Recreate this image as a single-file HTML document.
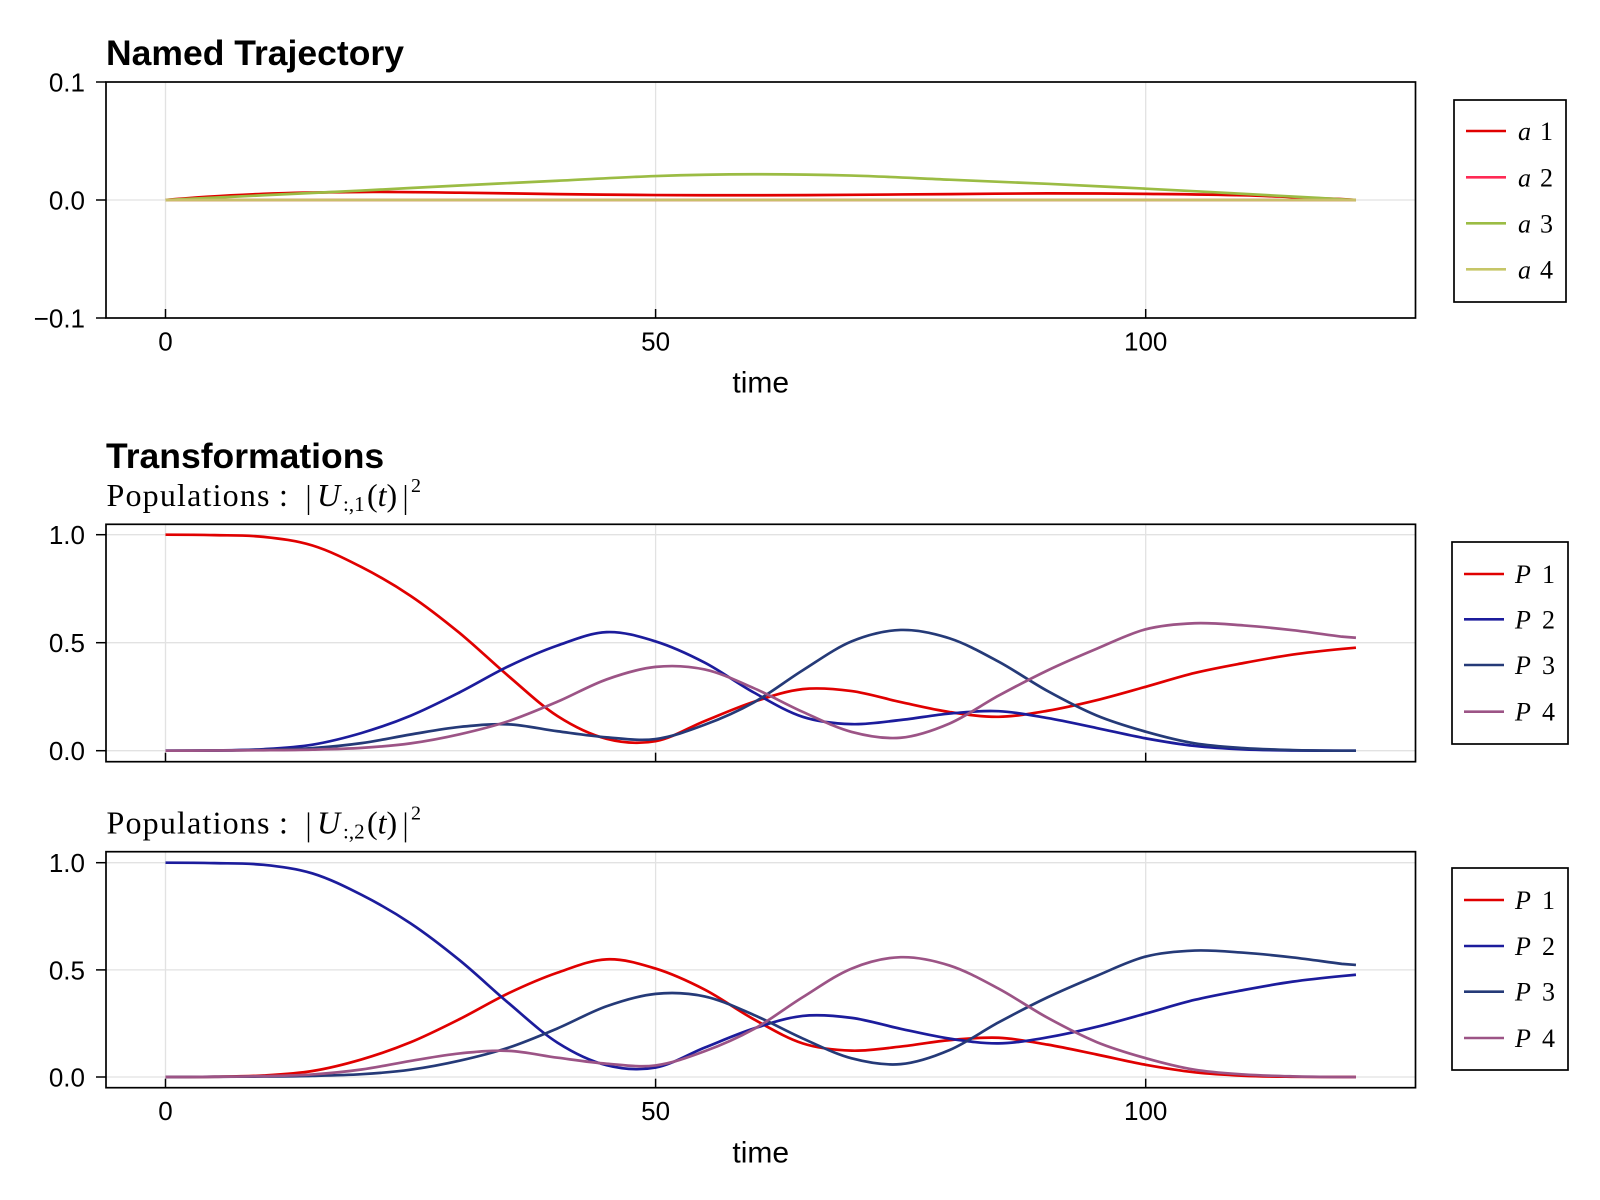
<!DOCTYPE html>
<html>
<head>
<meta charset="utf-8">
<style>
  html,body{margin:0;padding:0;background:#fff;}
  svg{display:block;}
  .sans{font-family:"Liberation Sans","DejaVu Sans",sans-serif;}
  .serif{font-family:"Liberation Serif","DejaVu Serif",serif;}
  .c{fill:none;stroke-width:2.7;vector-effect:non-scaling-stroke;stroke-linejoin:round;stroke-linecap:butt;}
  .grid{stroke:#e2e2e2;stroke-width:1.3;}
  .spine{fill:none;stroke:#000;stroke-width:1.7;}
  .tick{stroke:#000;stroke-width:1.5;}
  .tl{font-size:26px;fill:#000;}
  .lg{fill:#fff;stroke:#000;stroke-width:1.7;}
</style>
</head>
<body>
<svg width="1600" height="1200" viewBox="0 0 1600 1200">
  <rect x="0" y="0" width="1600" height="1200" fill="#fff"/>

  <!-- ================= TOP PLOT ================= -->
  <text class="sans" x="106" y="65" font-size="35.5" font-weight="bold">Named Trajectory</text>
  <line class="grid" x1="165.5" y1="82" x2="165.5" y2="318"/>
  <line class="grid" x1="655.6" y1="82" x2="655.6" y2="318"/>
  <line class="grid" x1="1145.7" y1="82" x2="1145.7" y2="318"/>
  <line class="grid" x1="106" y1="200" x2="1415.5" y2="200"/>
  <g transform="matrix(9.802 0 0 -1180 165.5 200)">
    <path class="c" stroke="#e00000" d="M0,0 C3.333,0.0025 6.667,0.00407 10,0.0052 S16.667,0.00663 20,0.0068 S26.667,0.0065 30,0.0062 S36.667,0.00533 40,0.005 S46.667,0.00437 50,0.0042 S56.667,0.00397 60,0.004 S66.667,0.00423 70,0.0044 S76.667,0.0048 80,0.005 S86.667,0.00557 90,0.0056 S96.667,0.00547 100,0.0052 S106.667,0.00473 110,0.004 S116.667,0.00147 120,0.0008 L121.45,0"/>
    <path class="c" stroke="#ff2a55" d="M0,0 L121.45,0"/>
    <path class="c" stroke="#9bbc44" d="M0,0 C3.333,0.0013 6.667,0.00267 10,0.004 S16.667,0.00662 20,0.008 S26.667,0.01092 30,0.0123 S36.667,0.01497 40,0.0163 S46.667,0.01938 50,0.0203 S56.667,0.02173 60,0.0218 S66.667,0.02147 70,0.0207 S76.667,0.01837 80,0.0172 S86.667,0.01497 90,0.0137 S96.667,0.01102 100,0.0096 S106.667,0.0067 110,0.0052 S116.667,0.0022 120,0.0006 L121.45,0"/>
    <path class="c" stroke="#c9bf6a" d="M0,0 L121.45,0"/>
  </g>
  <rect class="spine" x="106" y="82" width="1309.5" height="236"/>
  <line class="tick" x1="96" y1="82" x2="106" y2="82"/>
  <line class="tick" x1="96" y1="200" x2="106" y2="200"/>
  <line class="tick" x1="96" y1="318" x2="106" y2="318"/>
  <line class="tick" x1="165.5" y1="318" x2="165.5" y2="309"/>
  <line class="tick" x1="655.6" y1="318" x2="655.6" y2="309"/>
  <line class="tick" x1="1145.7" y1="318" x2="1145.7" y2="309"/>
  <text class="sans tl" x="85" y="91.5" text-anchor="end">0.1</text>
  <text class="sans tl" x="85" y="209.5" text-anchor="end">0.0</text>
  <text class="sans tl" x="85" y="327.5" text-anchor="end">−0.1</text>
  <text class="sans tl" x="165.5" y="350.3" text-anchor="middle">0</text>
  <text class="sans tl" x="655.6" y="350.3" text-anchor="middle">50</text>
  <text class="sans tl" x="1145.7" y="350.3" text-anchor="middle">100</text>
  <text class="sans" x="760.75" y="392.7" text-anchor="middle" font-size="30">time</text>
  <!-- legend 1 -->
  <rect class="lg" x="1454" y="100" width="112" height="202"/>
  <line x1="1466" y1="131" x2="1506" y2="131" stroke="#e00000" stroke-width="2.6"/>
  <line x1="1466" y1="177.3" x2="1506" y2="177.3" stroke="#ff2a55" stroke-width="2.6"/>
  <line x1="1466" y1="223.3" x2="1506" y2="223.3" stroke="#9bbc44" stroke-width="2.6"/>
  <line x1="1466" y1="269.3" x2="1506" y2="269.3" stroke="#c6c668" stroke-width="2.6"/>
  <g class="serif" font-size="26">
    <text x="1518" y="140"><tspan font-style="italic">a</tspan><tspan x="1540">1</tspan></text>
    <text x="1518" y="186.3"><tspan font-style="italic">a</tspan><tspan x="1540">2</tspan></text>
    <text x="1518" y="232.3"><tspan font-style="italic">a</tspan><tspan x="1540">3</tspan></text>
    <text x="1518" y="278.3"><tspan font-style="italic">a</tspan><tspan x="1540">4</tspan></text>
  </g>

  <!-- ================= MIDDLE PLOT ================= -->
  <text class="sans" x="106" y="468" font-size="35.5" font-weight="bold">Transformations</text>
  <g class="serif">
    <text x="106.5" y="506" font-size="32" textLength="163" lengthAdjust="spacing">Populations</text>
    <text x="279" y="506" font-size="32">:</text>
    <line x1="308.5" y1="485" x2="308.5" y2="515" stroke="#000" stroke-width="1.4"/>
    <text x="317" y="506" font-size="32" font-style="italic">U</text>
    <text x="343" y="511" font-size="21">:,1</text>
    <text x="367" y="506" font-size="32">(<tspan font-style="italic">t</tspan>)</text>
    <line x1="405.5" y1="485" x2="405.5" y2="515" stroke="#000" stroke-width="1.4"/>
    <text x="411" y="492" font-size="20">2</text>
  </g>
  <line class="grid" x1="165.5" y1="524.3" x2="165.5" y2="761.7"/>
  <line class="grid" x1="655.6" y1="524.3" x2="655.6" y2="761.7"/>
  <line class="grid" x1="1145.7" y1="524.3" x2="1145.7" y2="761.7"/>
  <line class="grid" x1="106" y1="534.7" x2="1415.5" y2="534.7"/>
  <line class="grid" x1="106" y1="642.7" x2="1415.5" y2="642.7"/>
  <line class="grid" x1="106" y1="750.7" x2="1415.5" y2="750.7"/>
  <g transform="matrix(9.802 0 0 -216 165.5 750.7)">
    <path class="c" stroke="#e00000" d="M0,1 C1.667,1 3.333,0.9997 5,0.998 S8.333,0.998 10,0.99 S13.333,0.9733 15,0.95 S18.333,0.8888 20,0.85 S23.333,0.7678 25,0.717 S28.333,0.607 30,0.545 S33.333,0.4092 35,0.345 S38.333,0.2083 40,0.16 S43.333,0.0743 45,0.055 S48.333,0.0303 50,0.044 S53.333,0.1067 55,0.137 S58.333,0.2013 60,0.226 S63.333,0.2767 65,0.285 S68.333,0.286 70,0.276 S73.333,0.2412 75,0.225 S78.333,0.1903 80,0.179 S83.333,0.156 85,0.157 S88.333,0.1722 90,0.185 S93.333,0.2155 95,0.234 S98.333,0.275 100,0.296 S103.333,0.3417 105,0.36 S108.333,0.3918 110,0.406 S113.333,0.4342 115,0.445 S118.333,0.4635 120,0.471 L121.45,0.477"/>
    <path class="c" stroke="#1c1c9c" d="M0,0 C1.667,0 3.333,-0.0002 5,0.001 S8.333,0.0025 10,0.007 S13.333,0.0155 15,0.028 S18.333,0.0597 20,0.082 S23.333,0.1307 25,0.162 S28.333,0.2318 30,0.27 S33.333,0.3548 35,0.391 S38.333,0.4607 40,0.487 S43.333,0.5458 45,0.549 S48.333,0.5295 50,0.506 S53.333,0.4473 55,0.408 S58.333,0.3118 60,0.27 S63.333,0.1815 65,0.157 S68.333,0.1255 70,0.123 S73.333,0.1338 75,0.142 S78.333,0.1652 80,0.172 S83.333,0.1865 85,0.183 S88.333,0.164 90,0.151 S93.333,0.1207 95,0.105 S98.333,0.0708 100,0.057 S103.333,0.0305 105,0.022 S108.333,0.0095 110,0.006 S113.333,0.002 115,0.001 S118.333,0.0002 120,0 L121.45,0"/>
    <path class="c" stroke="#253a78" d="M0,0 C1.667,0 3.333,0.0003 5,0.001 S8.333,0.0022 10,0.004 S13.333,0.0068 15,0.012 S18.333,0.0245 20,0.035 S23.333,0.0625 25,0.075 S28.333,0.1022 30,0.11 S33.333,0.1253 35,0.122 S38.333,0.1 40,0.09 S43.333,0.068 45,0.062 S48.333,0.0443 50,0.054 S53.333,0.0918 55,0.12 S58.333,0.181 60,0.223 S63.333,0.3248 65,0.372 S68.333,0.4748 70,0.506 S73.333,0.5567 75,0.559 S78.333,0.5445 80,0.52 S83.333,0.4527 85,0.412 S88.333,0.3175 90,0.276 S93.333,0.1943 95,0.163 S98.333,0.1095 100,0.088 S103.333,0.0467 105,0.034 S108.333,0.0172 110,0.012 S113.333,0.005 115,0.003 S118.333,0.0005 120,0 L121.45,0"/>
    <path class="c" stroke="#9c5486" d="M0,0 C1.667,0 3.333,0.0007 5,0.001 S8.333,0.0013 10,0.002 S13.333,0.0032 15,0.005 S18.333,0.0082 20,0.013 S23.333,0.0235 25,0.034 S28.333,0.0588 30,0.076 S33.333,0.1118 35,0.137 S38.333,0.1948 40,0.227 S43.333,0.3032 45,0.33 S48.333,0.3803 50,0.388 S53.333,0.3923 55,0.376 S58.333,0.3227 60,0.29 S63.333,0.2138 65,0.18 S68.333,0.107 70,0.087 S73.333,0.0535 75,0.06 S78.333,0.0935 80,0.126 S83.333,0.214 85,0.255 S88.333,0.3358 90,0.372 S93.333,0.4403 95,0.472 S98.333,0.5423 100,0.562 S103.333,0.587 105,0.59 S108.333,0.5853 110,0.58 S113.333,0.5667 115,0.558 S118.333,0.5377 120,0.528 L121.45,0.523"/>
  </g>
  <rect class="spine" x="106" y="524.3" width="1309.5" height="237.4"/>
  <line class="tick" x1="96" y1="534.7" x2="106" y2="534.7"/>
  <line class="tick" x1="96" y1="642.7" x2="106" y2="642.7"/>
  <line class="tick" x1="96" y1="750.7" x2="106" y2="750.7"/>
  <line class="tick" x1="165.5" y1="761.7" x2="165.5" y2="752.7"/>
  <line class="tick" x1="655.6" y1="761.7" x2="655.6" y2="752.7"/>
  <line class="tick" x1="1145.7" y1="761.7" x2="1145.7" y2="752.7"/>
  <text class="sans tl" x="85" y="544.2" text-anchor="end">1.0</text>
  <text class="sans tl" x="85" y="652.2" text-anchor="end">0.5</text>
  <text class="sans tl" x="85" y="760.2" text-anchor="end">0.0</text>
  <!-- legend 2 -->
  <rect class="lg" x="1452" y="542" width="116" height="202"/>
  <line x1="1464" y1="574" x2="1504" y2="574" stroke="#e00000" stroke-width="2.6"/>
  <line x1="1464" y1="619.3" x2="1504" y2="619.3" stroke="#1c1c9c" stroke-width="2.6"/>
  <line x1="1464" y1="665" x2="1504" y2="665" stroke="#253a78" stroke-width="2.6"/>
  <line x1="1464" y1="711.7" x2="1504" y2="711.7" stroke="#9c5486" stroke-width="2.6"/>
  <g class="serif" font-size="26">
    <text x="1515" y="583"><tspan font-style="italic">P</tspan><tspan x="1542">1</tspan></text>
    <text x="1515" y="628.3"><tspan font-style="italic">P</tspan><tspan x="1542">2</tspan></text>
    <text x="1515" y="674"><tspan font-style="italic">P</tspan><tspan x="1542">3</tspan></text>
    <text x="1515" y="720.7"><tspan font-style="italic">P</tspan><tspan x="1542">4</tspan></text>
  </g>

  <!-- ================= BOTTOM PLOT ================= -->
  <g class="serif">
    <text x="106.5" y="833.4" font-size="32" textLength="163" lengthAdjust="spacing">Populations</text>
    <text x="279" y="833.4" font-size="32">:</text>
    <line x1="308.5" y1="812.4" x2="308.5" y2="842.4" stroke="#000" stroke-width="1.4"/>
    <text x="317" y="833.4" font-size="32" font-style="italic">U</text>
    <text x="343" y="838.4" font-size="21">:,2</text>
    <text x="367" y="833.4" font-size="32">(<tspan font-style="italic">t</tspan>)</text>
    <line x1="405.5" y1="812.4" x2="405.5" y2="842.4" stroke="#000" stroke-width="1.4"/>
    <text x="411" y="819.4" font-size="20">2</text>
  </g>
  <line class="grid" x1="165.5" y1="851.7" x2="165.5" y2="1087.7"/>
  <line class="grid" x1="655.6" y1="851.7" x2="655.6" y2="1087.7"/>
  <line class="grid" x1="1145.7" y1="851.7" x2="1145.7" y2="1087.7"/>
  <line class="grid" x1="106" y1="862.7" x2="1415.5" y2="862.7"/>
  <line class="grid" x1="106" y1="969.9" x2="1415.5" y2="969.9"/>
  <line class="grid" x1="106" y1="1077" x2="1415.5" y2="1077"/>
  <g transform="matrix(9.802 0 0 -214.3 165.5 1077)">
    <path class="c" stroke="#e00000" d="M0,0 C1.667,0 3.333,-0.0002 5,0.001 S8.333,0.0025 10,0.007 S13.333,0.0155 15,0.028 S18.333,0.0597 20,0.082 S23.333,0.1307 25,0.162 S28.333,0.2318 30,0.27 S33.333,0.3548 35,0.391 S38.333,0.4607 40,0.487 S43.333,0.5458 45,0.549 S48.333,0.5295 50,0.506 S53.333,0.4473 55,0.408 S58.333,0.3118 60,0.27 S63.333,0.1815 65,0.157 S68.333,0.1255 70,0.123 S73.333,0.1338 75,0.142 S78.333,0.1652 80,0.172 S83.333,0.1865 85,0.183 S88.333,0.164 90,0.151 S93.333,0.1207 95,0.105 S98.333,0.0708 100,0.057 S103.333,0.0305 105,0.022 S108.333,0.0095 110,0.006 S113.333,0.002 115,0.001 S118.333,0.0002 120,0 L121.45,0"/>
    <path class="c" stroke="#1c1c9c" d="M0,1 C1.667,1 3.333,0.9997 5,0.998 S8.333,0.998 10,0.99 S13.333,0.9733 15,0.95 S18.333,0.8888 20,0.85 S23.333,0.7678 25,0.717 S28.333,0.607 30,0.545 S33.333,0.4092 35,0.345 S38.333,0.2083 40,0.16 S43.333,0.0743 45,0.055 S48.333,0.0303 50,0.044 S53.333,0.1067 55,0.137 S58.333,0.2013 60,0.226 S63.333,0.2767 65,0.285 S68.333,0.286 70,0.276 S73.333,0.2412 75,0.225 S78.333,0.1903 80,0.179 S83.333,0.156 85,0.157 S88.333,0.1722 90,0.185 S93.333,0.2155 95,0.234 S98.333,0.275 100,0.296 S103.333,0.3417 105,0.36 S108.333,0.3918 110,0.406 S113.333,0.4342 115,0.445 S118.333,0.4635 120,0.471 L121.45,0.477"/>
    <path class="c" stroke="#253a78" d="M0,0 C1.667,0 3.333,0.0007 5,0.001 S8.333,0.0013 10,0.002 S13.333,0.0032 15,0.005 S18.333,0.0082 20,0.013 S23.333,0.0235 25,0.034 S28.333,0.0588 30,0.076 S33.333,0.1118 35,0.137 S38.333,0.1948 40,0.227 S43.333,0.3032 45,0.33 S48.333,0.3803 50,0.388 S53.333,0.3923 55,0.376 S58.333,0.3227 60,0.29 S63.333,0.2138 65,0.18 S68.333,0.107 70,0.087 S73.333,0.0535 75,0.06 S78.333,0.0935 80,0.126 S83.333,0.214 85,0.255 S88.333,0.3358 90,0.372 S93.333,0.4403 95,0.472 S98.333,0.5423 100,0.562 S103.333,0.587 105,0.59 S108.333,0.5853 110,0.58 S113.333,0.5667 115,0.558 S118.333,0.5377 120,0.528 L121.45,0.523"/>
    <path class="c" stroke="#9c5486" d="M0,0 C1.667,0 3.333,0.0003 5,0.001 S8.333,0.0022 10,0.004 S13.333,0.0068 15,0.012 S18.333,0.0245 20,0.035 S23.333,0.0625 25,0.075 S28.333,0.1022 30,0.11 S33.333,0.1253 35,0.122 S38.333,0.1 40,0.09 S43.333,0.068 45,0.062 S48.333,0.0443 50,0.054 S53.333,0.0918 55,0.12 S58.333,0.181 60,0.223 S63.333,0.3248 65,0.372 S68.333,0.4748 70,0.506 S73.333,0.5567 75,0.559 S78.333,0.5445 80,0.52 S83.333,0.4527 85,0.412 S88.333,0.3175 90,0.276 S93.333,0.1943 95,0.163 S98.333,0.1095 100,0.088 S103.333,0.0467 105,0.034 S108.333,0.0172 110,0.012 S113.333,0.005 115,0.003 S118.333,0.0005 120,0 L121.45,0"/>
  </g>
  <rect class="spine" x="106" y="851.7" width="1309.5" height="236"/>
  <line class="tick" x1="96" y1="862.7" x2="106" y2="862.7"/>
  <line class="tick" x1="96" y1="969.9" x2="106" y2="969.9"/>
  <line class="tick" x1="96" y1="1077" x2="106" y2="1077"/>
  <line class="tick" x1="165.5" y1="1087.7" x2="165.5" y2="1078.7"/>
  <line class="tick" x1="655.6" y1="1087.7" x2="655.6" y2="1078.7"/>
  <line class="tick" x1="1145.7" y1="1087.7" x2="1145.7" y2="1078.7"/>
  <text class="sans tl" x="85" y="872.2" text-anchor="end">1.0</text>
  <text class="sans tl" x="85" y="979.4" text-anchor="end">0.5</text>
  <text class="sans tl" x="85" y="1086.5" text-anchor="end">0.0</text>
  <text class="sans tl" x="165.5" y="1120" text-anchor="middle">0</text>
  <text class="sans tl" x="655.6" y="1120" text-anchor="middle">50</text>
  <text class="sans tl" x="1145.7" y="1120" text-anchor="middle">100</text>
  <text class="sans" x="760.75" y="1162.4" text-anchor="middle" font-size="30">time</text>
  <!-- legend 3 -->
  <rect class="lg" x="1452" y="868" width="116" height="202"/>
  <line x1="1464" y1="900" x2="1504" y2="900" stroke="#e00000" stroke-width="2.6"/>
  <line x1="1464" y1="946" x2="1504" y2="946" stroke="#1c1c9c" stroke-width="2.6"/>
  <line x1="1464" y1="991.7" x2="1504" y2="991.7" stroke="#253a78" stroke-width="2.6"/>
  <line x1="1464" y1="1038" x2="1504" y2="1038" stroke="#9c5486" stroke-width="2.6"/>
  <g class="serif" font-size="26">
    <text x="1515" y="909"><tspan font-style="italic">P</tspan><tspan x="1542">1</tspan></text>
    <text x="1515" y="955"><tspan font-style="italic">P</tspan><tspan x="1542">2</tspan></text>
    <text x="1515" y="1000.7"><tspan font-style="italic">P</tspan><tspan x="1542">3</tspan></text>
    <text x="1515" y="1047"><tspan font-style="italic">P</tspan><tspan x="1542">4</tspan></text>
  </g>
</svg>
</body>
</html>
